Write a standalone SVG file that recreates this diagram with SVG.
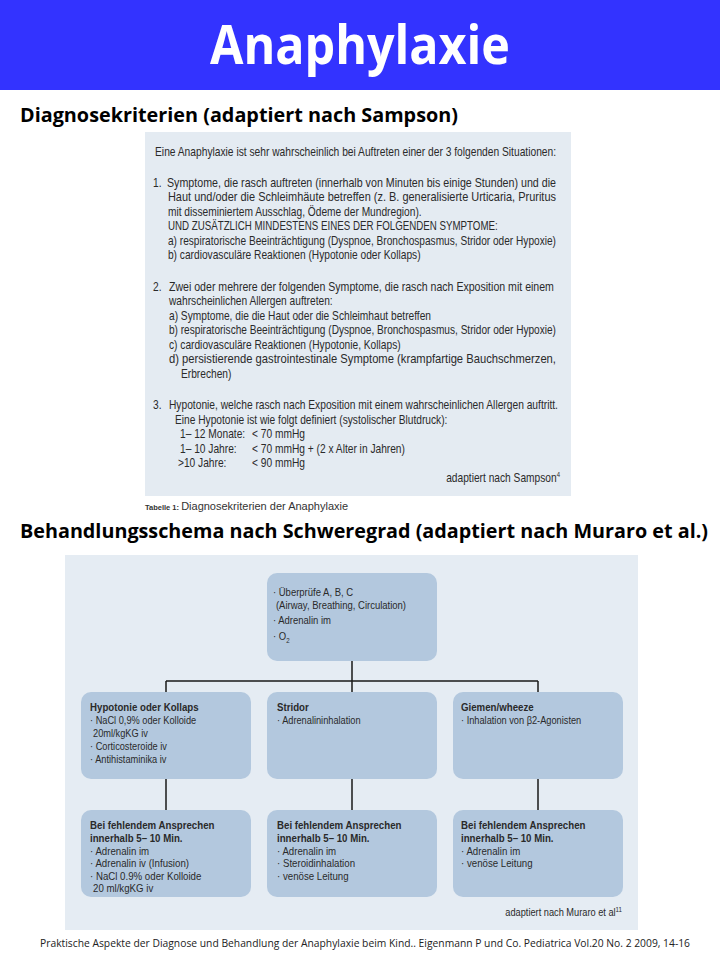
<svg xmlns="http://www.w3.org/2000/svg" width="720" height="960" viewBox="0 0 720 960">
<defs>
<style>
.title{font-family:"Open Sans","Liberation Sans",Arial,sans-serif;font-weight:bold;font-size:54px;fill:#ffffff}
.head{font-family:"Open Sans","Liberation Sans",Arial,sans-serif;font-weight:bold;font-size:19px;fill:#000000}
.foot{font-family:"Open Sans","Liberation Sans",Arial,sans-serif;font-size:10px;fill:#222222}
.t{font-family:"Liberation Sans",Arial,sans-serif;font-size:12px;fill:#2a2a2a}
.cap{font-family:"Liberation Sans",Arial,sans-serif;font-size:11px;fill:#333333}
.capb{font-family:"Liberation Sans",Arial,sans-serif;font-size:7.5px;font-weight:bold;fill:#333333}
.n{font-family:"Liberation Sans",Arial,sans-serif;font-size:10.5px;fill:#2a2a2a}
.n2{font-family:"Liberation Sans",Arial,sans-serif;font-size:11px;fill:#2a2a2a}
.nt{font-family:"Liberation Sans",Arial,sans-serif;font-size:10.8px;fill:#2a2a2a}
.nb{font-family:"Liberation Sans",Arial,sans-serif;font-size:11px;font-weight:bold;fill:#2a2a2a}
.sup{font-size:7px}
.box{fill:#b3c8de}
.link{stroke:#1a1a1a;stroke-width:1.5;fill:none}
</style>
</defs>
<rect x="0" y="0" width="720" height="960" fill="#ffffff"/>
<rect x="0" y="0" width="720" height="90" fill="#3333ff"/>
<text class="title" x="210" y="64" textLength="300" lengthAdjust="spacingAndGlyphs">Anaphylaxie</text>
<text class="head" x="20" y="122" textLength="438" lengthAdjust="spacingAndGlyphs">Diagnosekriterien (adaptiert nach Sampson)</text>

<g id="table">
<rect x="145" y="132" width="426" height="364" fill="#e4ebf2"/>
<g transform="scale(0.85,1)">
<text class="t" x="182.4" y="156" textLength="471.8" lengthAdjust="spacingAndGlyphs">Eine Anaphylaxie ist sehr wahrscheinlich bei Auftreten einer der 3 folgenden Situationen:</text>
<text class="t" x="180" y="187">1.</text>
<text class="t" x="196.5" y="187" textLength="457.6" lengthAdjust="spacingAndGlyphs">Symptome, die rasch auftreten (innerhalb von Minuten bis einige Stunden) und die</text>
<text class="t" x="197.6" y="201.5" textLength="456.5" lengthAdjust="spacingAndGlyphs">Haut und/oder die Schleimhäute betreffen (z. B. generalisierte Urticaria, Pruritus</text>
<text class="t" x="197.6" y="216">mit disseminiertem Ausschlag, Ödeme der Mundregion).</text>
<text class="t" x="197.6" y="230.5" textLength="388" lengthAdjust="spacingAndGlyphs">UND ZUSÄTZLICH MINDESTENS EINES DER FOLGENDEN SYMPTOME:</text>
<text class="t" x="197.6" y="245" textLength="456.5" lengthAdjust="spacingAndGlyphs">a) respiratorische Beeinträchtigung (Dyspnoe, Bronchospasmus, Stridor oder Hypoxie)</text>
<text class="t" x="197.6" y="259.5">b) cardiovasculäre Reaktionen (Hypotonie oder Kollaps)</text>
<text class="t" x="180" y="291">2.</text>
<text class="t" x="198.8" y="291" textLength="452.9" lengthAdjust="spacingAndGlyphs">Zwei oder mehrere der folgenden Symptome, die rasch nach Exposition mit einem</text>
<text class="t" x="198.8" y="305.5">wahrscheinlichen Allergen auftreten:</text>
<text class="t" x="198.8" y="320">a) Symptome, die die Haut oder die Schleimhaut betreffen</text>
<text class="t" x="198.8" y="334.5" textLength="455.3" lengthAdjust="spacingAndGlyphs">b) respiratorische Beeinträchtigung (Dyspnoe, Bronchospasmus, Stridor oder Hypoxie)</text>
<text class="t" x="198.8" y="349">c) cardiovasculäre Reaktionen (Hypotonie, Kollaps)</text>
<text class="t" x="198.8" y="363.5" textLength="455.3" lengthAdjust="spacingAndGlyphs">d) persistierende gastrointestinale Symptome (krampfartige Bauchschmerzen,</text>
<text class="t" x="212.9" y="378">Erbrechen)</text>
<text class="t" x="180" y="409">3.</text>
<text class="t" x="198.8" y="409" textLength="457.6" lengthAdjust="spacingAndGlyphs">Hypotonie, welche rasch nach Exposition mit einem wahrscheinlichen Allergen auftritt.</text>
<text class="t" x="205.9" y="424">Eine Hypotonie ist wie folgt definiert (systolischer Blutdruck):</text>
<text class="t" x="211.8" y="438.5">1– 12 Monate:</text>
<text class="t" x="296.5" y="438.5">&lt; 70 mmHg</text>
<text class="t" x="211.8" y="453">1– 10 Jahre:</text>
<text class="t" x="296.5" y="453">&lt; 70 mmHg + (2 x Alter in Jahren)</text>
<text class="t" x="209.4" y="467.5">&gt;10 Jahre:</text>
<text class="t" x="296.5" y="467.5">&lt; 90 mmHg</text>
<text class="t" x="658.8" y="482" text-anchor="end">adaptiert nach Sampson<tspan class="sup" dy="-5">4</tspan></text>
</g>
</g>
<text x="145" y="510"><tspan class="capb">Tabelle 1: </tspan><tspan class="cap">Diagnosekriterien der Anaphylaxie</tspan></text>

<text class="head" x="20" y="538" textLength="688" lengthAdjust="spacingAndGlyphs">Behandlungsschema nach Schweregrad (adaptiert nach Muraro et al.)</text>

<rect x="65" y="555" width="573" height="375" fill="#e5ecf3"/>

<g id="connectors">
<path class="link" d="M352,661 V681 M166,681 H538 M166,681 V692 M352,681 V692 M538,681 V692"/>
<path class="link" d="M166,779 V810 M352,779 V810 M538,779 V810"/>
</g>

<g id="n_top">
<rect class="box" x="267" y="573" width="170" height="88" rx="10"/>
<g transform="scale(0.88,1)">
<text class="nt" x="310.2" y="596">· Überprüfe A, B, C</text>
<text class="nt" x="313.6" y="609">(Airway, Breathing, Circulation)</text>
<text class="nt" x="310.2" y="624">· Adrenalin im</text>
<text class="nt" x="310.2" y="640">· O<tspan class="sup" dy="3">2</tspan></text>
</g>
</g>

<g id="n_hypo">
<rect class="box" x="81" y="692" width="170" height="87" rx="10"/>
<g transform="scale(0.88,1)">
<text class="nb" x="102.3" y="711">Hypotonie oder Kollaps</text>
<text class="n" x="102.3" y="724">· NaCl 0,9% oder Kolloide</text>
<text class="n" x="105.7" y="737">20ml/kgKG iv</text>
<text class="n" x="102.3" y="750">· Corticosteroide iv</text>
<text class="n" x="102.3" y="763">· Antihistaminika iv</text>
</g>
</g>

<g id="n_stridor">
<rect class="box" x="267" y="692" width="170" height="87" rx="10"/>
<g transform="scale(0.88,1)">
<text class="nb" x="314.8" y="711">Stridor</text>
<text class="n" x="314.8" y="724">· Adrenalininhalation</text>
</g>
</g>

<g id="n_giemen">
<rect class="box" x="453" y="692" width="170" height="87" rx="10"/>
<g transform="scale(0.88,1)">
<text class="nb" x="523.9" y="711">Giemen/wheeze</text>
<text class="n" x="523.9" y="724">· Inhalation von β2-Agonisten</text>
</g>
</g>

<g id="n_bei1">
<rect class="box" x="81" y="810" width="170" height="87" rx="10"/>
<g transform="scale(0.88,1)">
<text class="nb" x="102.3" y="829">Bei fehlendem Ansprechen</text>
<text class="nb" x="102.3" y="842">innerhalb 5– 10 Min.</text>
<text class="n2" x="102.3" y="855">· Adrenalin im</text>
<text class="n2" x="102.3" y="867">· Adrenalin iv (Infusion)</text>
<text class="n2" x="102.3" y="880">· NaCl 0.9% oder Kolloide</text>
<text class="n2" x="105.7" y="892">20 ml/kgKG iv</text>
</g>
</g>

<g id="n_bei2">
<rect class="box" x="267" y="810" width="170" height="87" rx="10"/>
<g transform="scale(0.88,1)">
<text class="nb" x="314.8" y="829">Bei fehlendem Ansprechen</text>
<text class="nb" x="314.8" y="842">innerhalb 5– 10 Min.</text>
<text class="n2" x="314.8" y="855">· Adrenalin im</text>
<text class="n2" x="314.8" y="867">· Steroidinhalation</text>
<text class="n2" x="314.8" y="880">· venöse Leitung</text>
</g>
</g>

<g id="n_bei3">
<rect class="box" x="453" y="810" width="170" height="87" rx="10"/>
<g transform="scale(0.88,1)">
<text class="nb" x="523.9" y="829">Bei fehlendem Ansprechen</text>
<text class="nb" x="523.9" y="842">innerhalb 5– 10 Min.</text>
<text class="n2" x="523.9" y="855">· Adrenalin im</text>
<text class="n2" x="523.9" y="867">· venöse Leitung</text>
</g>
</g>

<g transform="scale(0.88,1)">
<text class="n" x="706.8" y="916" text-anchor="end">adaptiert nach Muraro et al<tspan class="sup" dy="-4">11</tspan></text>
</g>

<text class="foot" x="40" y="947" textLength="650" lengthAdjust="spacingAndGlyphs">Praktische Aspekte der Diagnose und Behandlung der Anaphylaxie beim Kind.. Eigenmann P und Co. Pediatrica Vol.20 No. 2 2009, 14-16</text>
</svg>
